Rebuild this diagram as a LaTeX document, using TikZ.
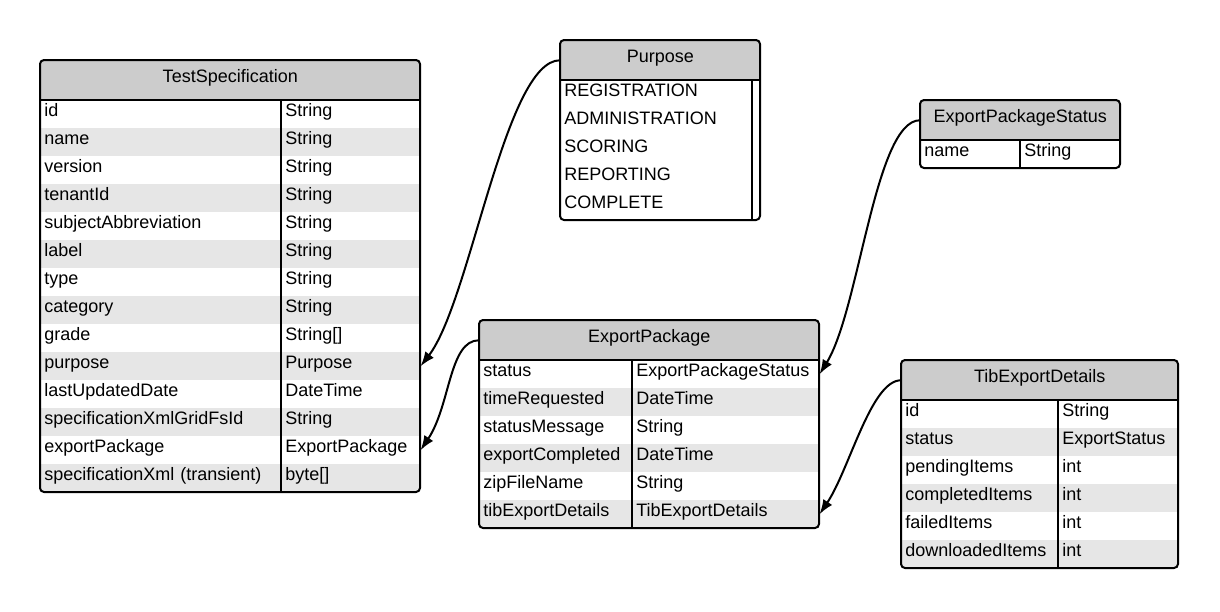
\documentclass[tikz,border=0pt]{standalone}
\usepackage{fontspec}
\setmainfont{Liberation Sans}
\usetikzlibrary{arrows.meta,positioning}

\definecolor{hdrgray}{HTML}{CCCCCC}
\definecolor{rowgray}{HTML}{E6E6E6}

% #1 name, #2 left, #3 divider, #4 right, #5 top, #6 rows, #7 title, #8 striped, #9 field/type list
\newcommand{\entity}[9]{
  \pgfmathsetmacro\ebot{#5+40+28*#6}
  \begin{scope}
    \clip[rounded corners=3pt] (#2,#5) rectangle (#4,\ebot);
    \node[hdr, minimum width={(#4-#2)*0.75pt}] (#1) at (#2,#5) {#7};
    \foreach \fld/\typ [count=\idx] in {#9} {
      \pgfmathsetmacro\ytop{#5+40+28*(\idx-1)}
      \def\rowbg{white}
      \ifodd\idx\else\ifnum#8=1 \def\rowbg{rowgray}\fi\fi
      \node[cell, fill=\rowbg, text width={(#3-#2)*0.75pt-6pt}] (#1-f\idx) at (#2,\ytop) {\fld};
      \node[cell, fill=\rowbg, text width={(#4-#3)*0.75pt-6pt}] (#1-t\idx) at (#3,\ytop) {\typ};
    }
  \end{scope}
  \draw[frame] (#3,#5+40) -- (#3,\ebot);
  \draw[frame] (#2,#5+40) -- (#4,#5+40);
  \draw[frame, rounded corners=3pt] (#2,#5) rectangle (#4,\ebot);
}

\begin{document}
\begin{tikzpicture}[x=0.75pt, y=-0.75pt, >=Latex,
  every node/.style={font=\fontsize{13.5}{15}\selectfont}]
\tikzstyle{hdr}=[fill=hdrgray, anchor=north west, inner sep=0pt, minimum height=30pt, text height=9pt, text depth=5pt]
\tikzstyle{cell}=[anchor=north west, align=left, inner xsep=3pt, inner ysep=0pt, minimum height=21pt, text height=9pt, text depth=5pt]
\tikzstyle{frame}=[draw=black, line width=1.5pt]
\tikzstyle{link}=[draw=black, line width=1.5pt, -{Latex[length=11pt,width=8pt]}]
\useasboundingbox (0,0) rectangle (1220,611);

\entity{ts}{40}{281}{420}{60}{14}{TestSpecification}{1}{id/String, name/String, version/String, tenantId/String,
  subjectAbbreviation/String, label/String, type/String, category/String, grade/String[], purpose/Purpose,
  lastUpdatedDate/DateTime, specificationXmlGridFsId/String, exportPackage/ExportPackage,
  specificationXml (transient)/byte[]}
\entity{pp}{560}{752}{760}{40}{5}{Purpose}{0}{REGISTRATION/{}, ADMINISTRATION/{}, SCORING/{}, REPORTING/{}, COMPLETE/{}}
\entity{eps}{920}{1020}{1120}{100}{1}{ExportPackageStatus}{1}{name/String}
\entity{ep}{479}{632}{819}{320}{6}{ExportPackage}{1}{status/ExportPackageStatus, timeRequested/DateTime,
  statusMessage/String, exportCompleted/DateTime, zipFileName/String, tibExportDetails/TibExportDetails}
\entity{ted}{901}{1058}{1178}{360}{6}{TibExportDetails}{1}{id/String, status/ExportStatus, pendingItems/int,
  completedItems/int, failedItems/int, downloadedItems/int}

\draw[link] (pp.west) .. controls +(-55,0) and +(50,-65) .. (ts-t10.east);
\draw[link] (ep.west) .. controls +(-30,0) and +(30,-45) .. (ts-t13.east);
\draw[link] (eps.west) .. controls +(-45,0) and +(40,-65) .. (ep-t1.east);
\draw[link] (ted.west) .. controls +(-30,0) and +(30,-45) .. (ep-t6.east);
\end{tikzpicture}
\end{document}
